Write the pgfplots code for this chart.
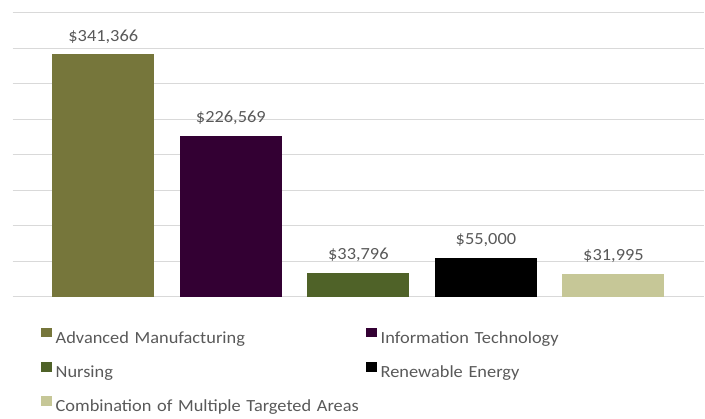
\documentclass[border=0pt]{standalone}
\usepackage{fontspec}
\setmainfont{Carlito}[FakeStretch=1.08]
\usepackage{pgfplots}
\pgfplotsset{compat=1.18}

\definecolor{cAM}{HTML}{76763B}
\definecolor{cIT}{HTML}{330033}
\definecolor{cNU}{HTML}{4F6228}
\definecolor{cRE}{HTML}{000000}
\definecolor{cCO}{HTML}{C6C797}
\definecolor{txtgray}{HTML}{595959}
\definecolor{gridgray}{HTML}{D9D9D9}

\begin{document}
\begin{tikzpicture}
  \useasboundingbox (0,0) rectangle (705pt,419pt);
  \begin{axis}[
    at={(12.7pt,122.3pt)}, anchor=south west,
    scale only axis,
    width=691.3pt,
    height=284pt,
    ybar,
    bar width=0.8,
    xmin=-0.71, xmax=4.71,
    ymin=0, ymax=400000,
    ytick={0,50000,...,400000},
    scaled y ticks=false,
    yticklabels={},
    xtick=\empty,
    major tick length=0pt,
    tick style={draw=none},
    ymajorgrids,
    grid style={draw=gridgray, line width=0.8pt},
    axis line style={draw=none},
    clip=false,
    /pgf/number format/assume math mode=true,
    /pgf/number format/.cd, fixed, precision=0, 1000 sep={,},
    /pgfplots/.cd,
    nodes near coords={\$\pgfmathprintnumber{\pgfplotspointmeta}},
    every node near coord/.append style={font=\fontsize{17}{20}\selectfont,
      text=txtgray, anchor=base, yshift=13.3pt, inner sep=0pt},
    legend columns=2,
    legend cell align=left,
    legend image code/.code={\fill[#1] (0pt,1.3pt) rectangle (11pt,10.7pt);},
    legend style={at={(axis description cs:0.0405,-0.110)}, anchor=north west,
      draw=none, fill=none, inner sep=0pt, outer sep=0pt,
      font=\fontsize{17}{20}\selectfont, text=txtgray,
      column sep=4pt, row sep=15pt,
      nodes={inner sep=0pt, text height=13pt, text depth=4pt, text width=306pt}},
  ]
    \addplot[fill=cAM, draw=none, bar shift=0pt] coordinates {(0,341366)};
    \addplot[fill=cIT, draw=none, bar shift=0pt] coordinates {(1,226569)};
    \addplot[fill=cNU, draw=none, bar shift=0pt] coordinates {(2,33796)};
    \addplot[fill=cRE, draw=none, bar shift=0pt] coordinates {(3,55000)};
    \addplot[fill=cCO, draw=none, bar shift=0pt] coordinates {(4,31995)};
    \legend{Advanced Manufacturing, Information Technology, Nursing,
      Renewable Energy, Combination of Multiple Targeted Areas}
  \end{axis}
\end{tikzpicture}
\end{document}
